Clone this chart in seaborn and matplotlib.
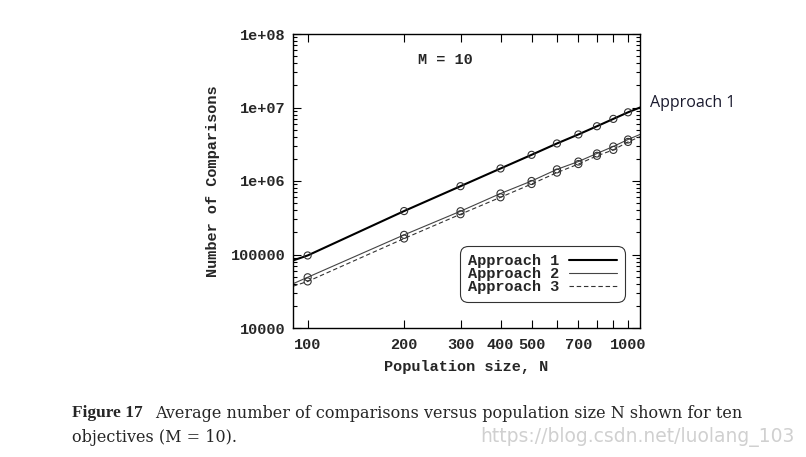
import matplotlib
matplotlib.use("Agg")
import numpy as np
import pandas as pd
import matplotlib.pyplot as plt
import seaborn as sns
from matplotlib.lines import Line2D
from matplotlib.ticker import FixedLocator, FixedFormatter, NullFormatter

# === Data ===
pop_size = [100, 200, 300, 400, 500, 600, 700, 800, 900, 1000]
approach_1 = [97000, 390000, 850000, 1480000, 2270000, 3240000, 4300000, 5560000, 7000000, 8600000]
approach_2 = [49000, 185000, 388000, 676000, 1000000, 1440000, 1840000, 2370000, 2950000, 3670000]
approach_3 = [43000, 165000, 353000, 600000, 910000, 1300000, 1700000, 2200000, 2650000, 3400000]

# lines run on to the frame edges
edge_n = [90, 1090]
edge_1 = [83000, 10000000]
edge_2 = [40000, 4300000]
edge_3 = [37000, 4000000]

x_ticks = [100, 200, 300, 400, 500, 600, 700, 800, 900, 1000]
x_labels = ["100", "200", "300", "400", "500", "", "700", "", "", "1000"]
y_ticks = [1e4, 1e5, 1e6, 1e7, 1e8]
y_labels = ["10000", "100000", "1e+06", "1e+07", "1e+08"]

sns.set_style("white")
plt.rcParams['font.family'] = ['Liberation Mono', 'DejaVu Sans Mono']

W, H = 806, 457
fig = plt.figure(figsize=(W / 100, H / 100), dpi=100)
ax = fig.add_axes([293 / W, 1 - 328 / H, (640 - 293) / W, (328 - 34) / H])

styles = [
    ("Approach 1", approach_1, edge_1, dict(color="black", lw=1.5, ls="-")),
    ("Approach 2", approach_2, edge_2, dict(color="#444444", lw=0.8, ls="-")),
    ("Approach 3", approach_3, edge_3, dict(color="#333333", lw=0.8, ls=(0, (4, 2.5)))),
]

handles = []
for name, vals, edge, st in styles:
    line_df = pd.DataFrame({"N": [edge_n[0]] + pop_size + [edge_n[1]],
                            "C": [edge[0]] + vals + [edge[1]]})
    sns.lineplot(data=line_df, x="N", y="C", ax=ax, color=st["color"],
                 linewidth=st["lw"], linestyle=st["ls"], legend=False)
    pts = pd.DataFrame({"N": pop_size, "C": vals})
    sns.scatterplot(data=pts, x="N", y="C", ax=ax, s=26, facecolor="none",
                    edgecolor="#333333", linewidth=0.8, legend=False, zorder=3)
    handles.append(Line2D([0], [0], color=st["color"], lw=st["lw"], ls=st["ls"]))

ax.set_xscale("log")
ax.set_yscale("log")
ax.set_xlim(edge_n[0], edge_n[1])
ax.set_ylim(1e4, 1e8)

ax.xaxis.set_major_locator(FixedLocator(x_ticks))
ax.xaxis.set_major_formatter(FixedFormatter(x_labels))
ax.xaxis.set_minor_formatter(NullFormatter())
ax.xaxis.set_minor_locator(FixedLocator([]))
ax.yaxis.set_major_locator(FixedLocator(y_ticks))
ax.yaxis.set_major_formatter(FixedFormatter(y_labels))
ax.yaxis.set_minor_locator(matplotlib.ticker.LogLocator(base=10, subs=np.arange(2, 10)))
ax.yaxis.set_minor_formatter(NullFormatter())

ax.tick_params(which="both", direction="in", top=True, right=True, left=True, bottom=True,
               color="black", width=0.8)
ax.tick_params(which="major", length=6, labelsize=11, pad=5)
ax.tick_params(which="minor", length=3)
ax.tick_params(axis="x", which="major", pad=7)
for lbl in ax.get_xticklabels() + ax.get_yticklabels():
    lbl.set_fontweight("bold")

for sp in ax.spines.values():
    sp.set_color("black")
    sp.set_linewidth(1.0)

ax.set_xlabel("Population size, N", fontsize=11, fontweight="bold", labelpad=6)
ax.set_ylabel("Number of Comparisons", fontsize=11, fontweight="bold", labelpad=8)

ax.text(0.44, 0.91, "M = 10", transform=ax.transAxes, ha="center", va="center",
        fontsize=11, fontweight="bold")

legend = ax.legend(handles, ["Approach 1", "Approach 2", "Approach 3"],
                   loc="lower right", bbox_to_anchor=(0.957, 0.088),
                   markerfirst=False, fancybox=True, frameon=True,
                   prop={"family": "Liberation Mono", "weight": "bold", "size": 11},
                   labelspacing=-0.05, handlelength=3.2, handletextpad=0.6,
                   borderpad=0.5, borderaxespad=0)
legend.get_frame().set_edgecolor("black")
legend.get_frame().set_linewidth(0.8)
legend.get_frame().set_boxstyle("round", pad=0.0, rounding_size=0.5)

# annotation to the right of the frame
fig.text(650 / W, 1 - 103 / H, "Approach 1", fontsize=11.5, family="Open Sans",
         color="#1a1a2e", ha="left", va="center")

# caption
fig.text(72 / W, 1 - 413 / H, "Figure 17", fontsize=12.5, family="Liberation Serif",
         fontweight="bold", ha="left", va="center")
fig.text(155 / W, 1 - 413 / H,
         "Average number of comparisons versus population size N shown for ten",
         fontsize=11.5, family="DejaVu Serif", ha="left", va="center")
fig.text(72 / W, 1 - 438 / H, "objectives (M = 10).", fontsize=11.5,
         family="DejaVu Serif", ha="left", va="center")
fig.text(795 / W, 1 - 437 / H, "https://blog.csdn.net/luolang_103", fontsize=13.5,
         family="Liberation Sans Narrow", color="#d0d0d0", ha="right", va="center")

fig.savefig("out.png", dpi=100)
plt.close(fig)
